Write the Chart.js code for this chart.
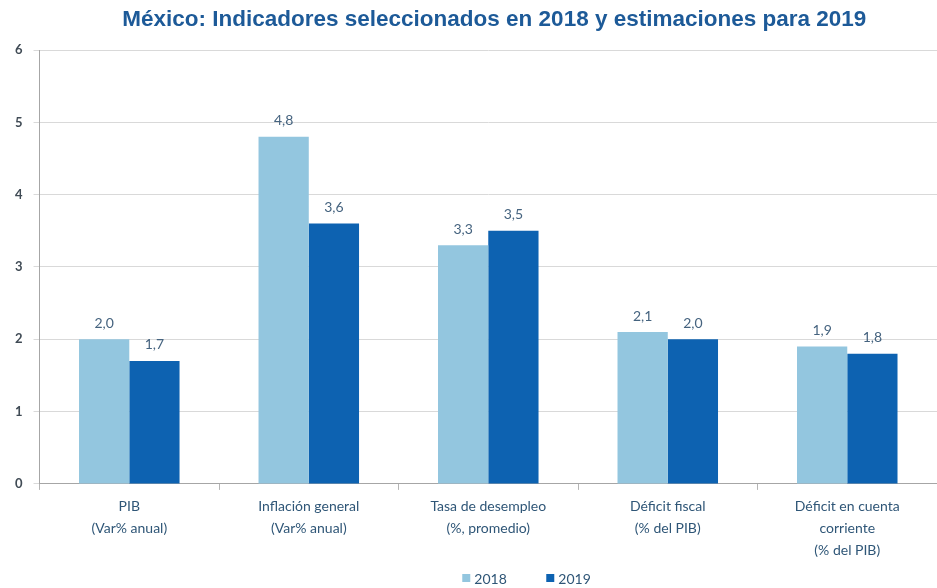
<!DOCTYPE html>
<html>
<head>
<meta charset="utf-8">
<script src="https://cdn.jsdelivr.net/npm/chart.js@4"></script>
<style>
  body { margin: 0; background: #fff; }
  #wrap { width: 937px; height: 588px; }
</style>
</head>
<body>
<div id="wrap"><canvas id="grafica"></canvas></div>
<script>
const titulo = 'México: Indicadores seleccionados en 2018 y estimaciones para 2019';
const categorias = [
  ['PIB', '(Var% anual)'],
  ['Inflación general', '(Var% anual)'],
  ['Tasa de desempleo', '(%, promedio)'],
  ['Déficit fiscal', '(% del PIB)'],
  ['Déficit en cuenta', 'corriente', '(% del PIB)']
];
const series = ['2018', '2019'];
const valores2018 = [2.0, 4.8, 3.3, 2.1, 1.9];
const valores2019 = [1.7, 3.6, 3.5, 2.0, 1.8];
const ticksY = [0, 1, 2, 3, 4, 5, 6];
const colores = ['#93c6df', '#0d62b1'];

const fuente = 'Lato, "Open Sans", sans-serif';

// etiquetas de valor sobre cada barra
const etiquetas = {
  id: 'etiquetas',
  afterDatasetsDraw(chart) {
    const ctx = chart.ctx;
    ctx.save();
    ctx.font = '14px ' + fuente;
    ctx.fillStyle = '#45637f';
    ctx.textAlign = 'center';
    ctx.textBaseline = 'bottom';
    chart.data.datasets.forEach((ds, i) => {
      chart.getDatasetMeta(i).data.forEach((bar, j) => {
        const txt = ds.data[j].toFixed(1).replace('.', ',');
        ctx.fillText(txt, bar.x, bar.y - 9);
      });
    });
    ctx.restore();
  }
};

// titulo y leyenda dibujados a mano para colocarlos como en el original
const tituloYLeyenda = {
  id: 'tituloYLeyenda',
  afterDraw(chart) {
    const ctx = chart.ctx;
    const area = chart.chartArea;
    const cx = (area.left + area.right) / 2;
    ctx.save();
    ctx.font = 'bold 22.5px "Liberation Sans", Arial, sans-serif';
    ctx.fillStyle = '#1d5a98';
    ctx.textAlign = 'center';
    ctx.textBaseline = 'middle';
    ctx.fillText(titulo, cx + 6, 20);

    ctx.font = '14px ' + fuente;
    ctx.textAlign = 'left';
    const y = chart.height - 10;
    let x = cx - 26;
    chart.data.datasets.forEach((ds) => {
      ctx.fillStyle = ds.backgroundColor;
      ctx.fillRect(x, y - 4, 8, 8);
      ctx.fillStyle = '#2f5677';
      ctx.fillText(ds.label, x + 12, y + 1);
      x += 84;
    });
    ctx.restore();
  }
};

new Chart(document.getElementById('grafica'), {
  type: 'bar',
  data: {
    labels: categorias,
    datasets: [
      { label: series[0], data: valores2018, backgroundColor: colores[0] },
      { label: series[1], data: valores2019, backgroundColor: colores[1] }
    ]
  },
  options: {
    responsive: true,
    maintainAspectRatio: false,
    animation: false,
    layout: { padding: { top: 50, right: 0, left: 4, bottom: 21 } },
    categoryPercentage: 0.56,
    barPercentage: 1.0,
    plugins: {
      title: { display: false },
      legend: { display: false },
      tooltip: { enabled: false }
    },
    scales: {
      x: {
        grid: { display: true, drawOnChartArea: false, drawTicks: true, offset: true, tickLength: 6, color: '#b5b5b5' },
        border: { color: '#a6a6a6' },
        ticks: { color: '#2f5677', font: { family: fuente, size: 14, lineHeight: 1.55 }, padding: 6 }
      },
      y: {
        min: 0, max: 6,
        afterBuildTicks: (axis) => { axis.ticks = ticksY.map(v => ({ value: v })); },
        grid: { color: '#d9d9d9', tickLength: 6 },
        border: { color: '#a6a6a6' },
        ticks: { color: '#404b55', font: { family: fuente, size: 13, weight: 'bold' }, padding: 11 }
      }
    }
  },
  plugins: [etiquetas, tituloYLeyenda]
});
</script>
</body>
</html>
